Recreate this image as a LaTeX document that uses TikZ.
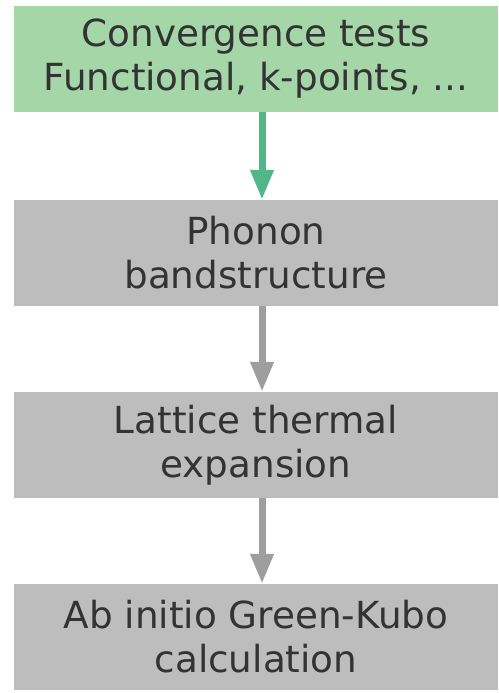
\documentclass[tikz,border=0pt]{standalone}
\usepackage{fontspec}
\setmainfont{DejaVu Sans}
\usetikzlibrary{arrows.meta}
\definecolor{boxgreen}{HTML}{A5D6A7}
\definecolor{arrowgreen}{HTML}{52B788}
\definecolor{boxgray}{HTML}{BDBDBD}
\definecolor{arrowgray}{HTML}{9E9E9E}
\definecolor{txtgray}{HTML}{333333}
\tikzset{
  stepbox/.style={shape=rectangle, draw=none, fill=boxgray, text=txtgray, align=center,
    minimum width=484pt, minimum height=106pt, inner sep=0pt,
    font=\fontsize{37.3}{44}\selectfont},
  flow/.style={line width=7pt, -{Triangle[width=22pt,length=30pt]}}
}
\begin{document}
\begin{tikzpicture}[x=1pt,y=1pt]
%%%%%%%%%%%%%%%%%%%%%%%%%%%%%%%%%%%%%%%%%%% canvas
\useasboundingbox (0,0) rectangle (498,693);

%%%%%%%%%%%%%%%%%%%%%%%%%%%%%%%%%%%%%%%%%%% steps
\node[stepbox, fill=boxgreen](conv) at (256,634){Convergence tests\\Functional, k-points, ...};
\node[stepbox](phonon) at (256,440){Phonon\\bandstructure};
\node[stepbox](expansion) at (256,248){Lattice thermal\\expansion};
\node[stepbox](greenkubo) at (256,56){Ab initio Green-Kubo\\calculation};

%%%%% arrows
\draw[flow, arrowgreen] ([xshift=6pt]conv.south) -- ([xshift=6pt]phonon.north);
\draw[flow, arrowgray] ([xshift=6pt]phonon.south) -- ([xshift=6pt]expansion.north);
\draw[flow, arrowgray] ([xshift=6pt]expansion.south) -- ([xshift=6pt]greenkubo.north);
\end{tikzpicture}
\end{document}
